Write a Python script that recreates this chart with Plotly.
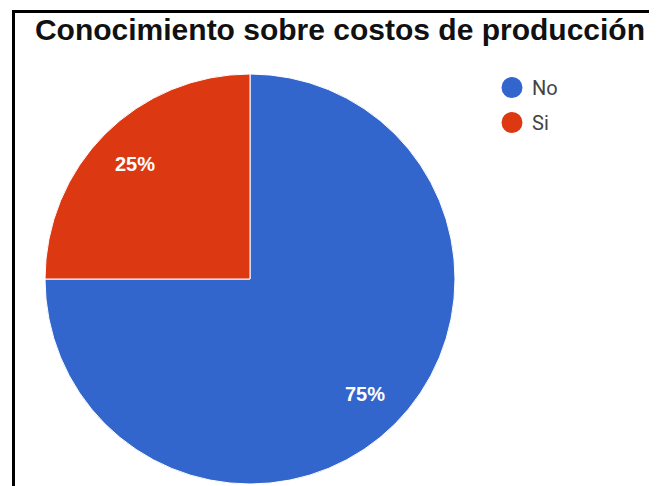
import math
import plotly.graph_objects as go

# chart data
labels = ["No", "Si"]
values = [75, 25]
colors = ["#3366cc", "#dc3912"]

# the page body adds an 8px margin, so the figure is drawn 8px smaller
W, H = 649, 478
OFF = 8


def px(x):
    return (x - OFF) / W


def py(y):
    return 1 - (y - OFF) / H


# pie geometry (reference pixel coordinates)
CX, CY, R = 250, 279, 205

fig = go.Figure()

fig.add_trace(go.Pie(
    labels=labels,
    values=values,
    sort=False,
    direction="clockwise",
    rotation=0,
    marker=dict(colors=colors, line=dict(color="white", width=1)),
    textinfo="none",
    hoverinfo="label+percent",
    showlegend=False,
    domain=dict(x=[px(CX - R), px(CX + R)], y=[py(CY + R), py(CY - R)]),
))

# percentage labels placed along each slice's mid angle
total = sum(values)
start = 0.0
annotations = []
for v in values:
    mid = (start + v / 2) / total * 2 * math.pi
    start += v
    annotations.append(dict(
        x=px(CX + 0.79 * R * math.sin(mid)),
        y=py(CY - 0.79 * R * math.cos(mid)),
        xref="paper", yref="paper",
        xanchor="center", yanchor="middle",
        text=f"<b>{round(v / total * 100)}%</b>",
        showarrow=False,
        font=dict(family="Liberation Sans", size=20, color="white"),
    ))

# legend entries with round markers
for i, (name, col) in enumerate(zip(labels, colors)):
    fig.add_trace(go.Scatter(
        x=[None], y=[None],
        mode="markers",
        name=name,
        legendgroup=f"g{i}",
        marker=dict(color=col, size=16, line=dict(color=col, width=5)),
        showlegend=True,
        hoverinfo="skip",
    ))

fig.update_layout(
    width=W,
    height=H,
    margin=dict(l=0, r=0, t=0, b=0),
    paper_bgcolor="white",
    plot_bgcolor="white",
    xaxis=dict(visible=False),
    yaxis=dict(visible=False),
    title=dict(
        text="<b>Conocimiento sobre costos de producción</b>",
        x=px(340), xanchor="center", xref="paper",
        y=py(29), yanchor="middle", yref="paper",
        font=dict(family="Liberation Sans", size=30, color="#111111"),
    ),
    legend=dict(
        x=px(492), xanchor="left",
        y=py(68), yanchor="top",
        font=dict(family="Roboto", size=20, color="#444444"),
        bgcolor="rgba(0,0,0,0)",
        tracegroupgap=6,
        itemclick=False,
    ),
    annotations=annotations,
    shapes=[
        dict(type="rect", xref="paper", yref="paper",
             x0=px(13.5), x1=1.2, y0=-0.2, y1=py(11.5),
             line=dict(color="black", width=3), fillcolor="rgba(0,0,0,0)"),
    ],
)

fig.write_html("out.html")
